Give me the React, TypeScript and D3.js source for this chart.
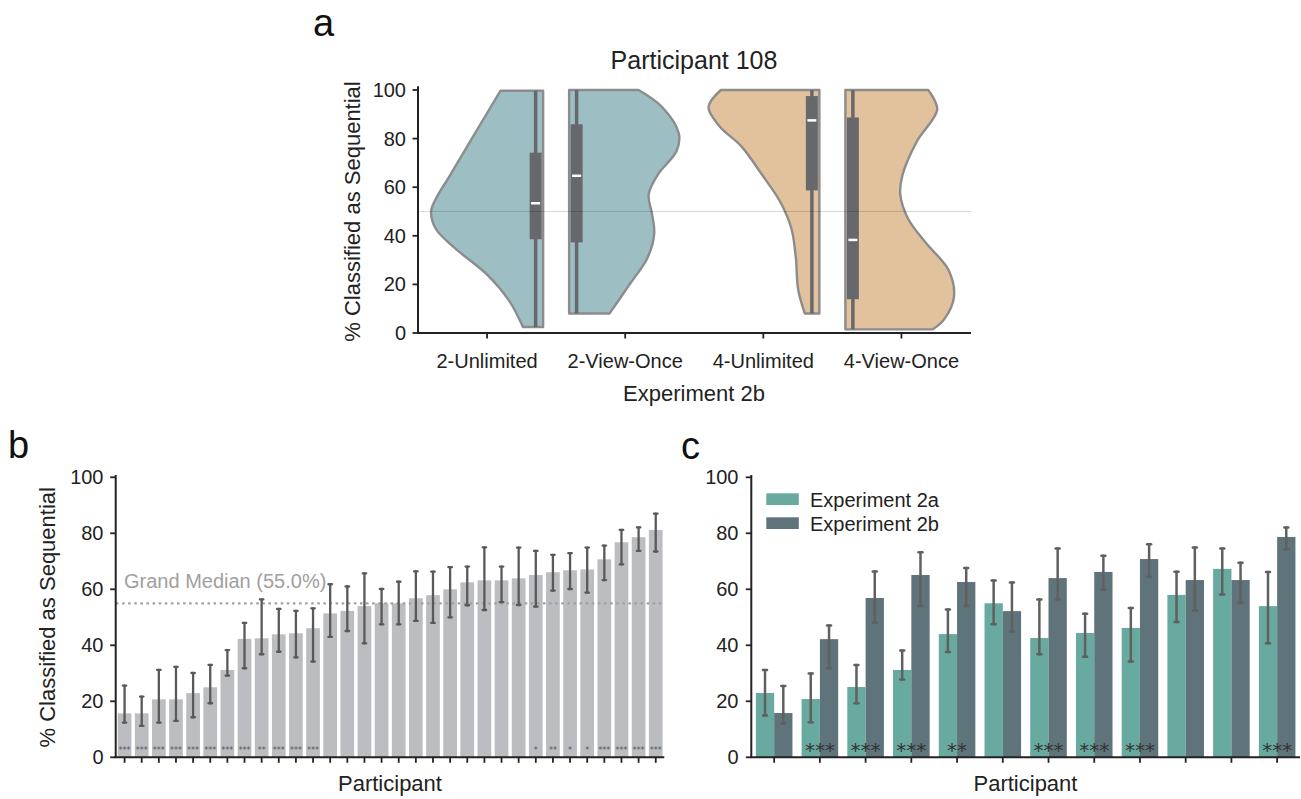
import React from "react";
import * as d3 from "d3";

const FONT = "'Liberation Sans', Arial, Helvetica, sans-serif";
const STAR_FONT = "'DejaVu Sans', sans-serif";

// ---------- Panel a data ----------
const violinTitle = "Participant 108";
const violinCategories = ["2-Unlimited", "2-View-Once", "4-Unlimited", "4-View-Once"];
const density2Unlimited: [number, number][] = [[2.5, 0.18], [13, 0.3], [24, 0.5], [35, 0.79], [43, 0.96], [50, 1.0], [55, 0.96], [65, 0.83], [79, 0.65], [99.7, 0.38]];
const density2ViewOnce: [number, number][] = [[8, 0.36], [20, 0.54], [31, 0.7], [41, 0.76], [49, 0.74], [57, 0.71], [65, 0.79], [75, 0.96], [82, 0.98], [93, 0.83], [100, 0.62]];
const density4Unlimited: [number, number][] = [[8, 0.13], [18, 0.19], [31, 0.21], [43, 0.25], [54, 0.35], [65, 0.51], [77, 0.7], [85, 0.89], [93, 0.99], [100, 0.88]];
const density4ViewOnce: [number, number][] = [[1.5, 0.78], [5.5, 0.88], [15, 0.97], [26, 0.92], [37, 0.72], [47, 0.56], [57, 0.49], [65, 0.51], [79, 0.64], [92, 0.82], [100, 0.74]];
const boxMin = [2.5, 8, 8, 1.5];
const boxQ1 = [38.6, 37.3, 58.7, 13.9];
const boxMedian = [53.4, 64.7, 87.5, 38.3];
const boxQ3 = [74.2, 85.9, 97.5, 88.7];
const boxMax = [99.7, 100, 100, 100];
const chanceLevel = 50;
const yTicks = [0, 20, 40, 60, 80, 100];

// ---------- Panel b data ----------
const participantMean = [15.7, 15.7, 20.7, 20.7, 22.9, 25.0, 31.2, 42.3, 42.5, 43.9, 44.3, 46.1, 51.4, 52.3, 54.0, 55.0, 55.0, 56.8, 57.9, 60.0, 62.5, 63.2, 63.2, 63.9, 65.1, 66.1, 66.8, 67.1, 70.7, 76.8, 78.6, 81.2];
const participantLow = [12.4, 11.2, 12.4, 13.0, 14.3, 19.3, 29.2, 31.8, 36.8, 37.7, 35.7, 34.2, 43.0, 45.1, 40.7, 47.5, 47.5, 48.7, 48.0, 50.0, 54.3, 52.6, 55.4, 54.4, 53.8, 59.5, 60.1, 58.8, 63.3, 68.9, 73.7, 73.5];
const participantHigh = [25.6, 21.7, 31.2, 32.3, 30.1, 33.0, 38.3, 48.0, 56.4, 53.0, 52.3, 53.2, 61.8, 61.0, 65.7, 60.1, 62.7, 66.4, 66.3, 67.9, 68.1, 75.0, 68.1, 74.9, 73.7, 72.3, 72.9, 74.9, 75.6, 81.2, 82.1, 87.0];
const participantStars = ["***", "***", "***", "***", "***", "***", "***", "***", "**", "***", "***", "***", "", "", "", "", "", "", "", "", "", "", "", "", "*", "**", "*", "*", "***", "***", "***", "***"];
const grandMedian = 55.0;

// ---------- Panel c data ----------
const seriesNames = ["Experiment 2a", "Experiment 2b"];
const exp2aMean = [22.96, 20.8, 25.1, 31.2, 44.0, 55.0, 42.6, 44.4, 46.2, 58.0, 67.3, 54.0];
const exp2aLow = [14.9, 12.5, 19.3, 27.8, 37.6, 47.5, 36.8, 35.9, 34.2, 48.3, 58.1, 40.7];
const exp2aHigh = [31.2, 29.9, 33.0, 38.1, 52.8, 63.1, 56.4, 51.3, 53.3, 66.3, 74.6, 66.2];
const exp2bMean = [15.8, 42.2, 56.9, 65.1, 62.6, 52.2, 64.0, 66.2, 70.8, 63.3, 63.3, 78.7];
const exp2bLow = [12.1, 31.8, 48.1, 54.0, 54.0, 44.9, 56.4, 59.8, 64.5, 52.4, 55.2, 74.3];
const exp2bHigh = [25.5, 47.1, 66.4, 73.2, 67.6, 62.4, 74.6, 72.0, 76.1, 74.9, 69.5, 82.1];
const groupStars = ["", "***", "***", "***", "**", "", "***", "***", "***", "", "", "***"];

const densities = [density2Unlimited, density2ViewOnce, density4Unlimited, density4ViewOnce];
const violinFill = ["#9dbfc4", "#9dbfc4", "#e2c19d", "#e2c19d"];
const seriesColors = ["#69aaa0", "#5f737a"];

function ErrorBar({ x, y1, y2, color, w, cap }: { x: number; y1: number; y2: number; color: string; w: number; cap: number }) {
  return (
    <g stroke={color} strokeWidth={w} strokeLinecap="round">
      <line x1={x} x2={x} y1={y1} y2={y2} />
      <line x1={x - cap / 2} x2={x + cap / 2} y1={y1} y2={y1} />
      <line x1={x - cap / 2} x2={x + cap / 2} y1={y2} y2={y2} />
    </g>
  );
}

export default function App() {
  // ---------- Panel a scales ----------
  const xA = d3.scaleBand<string>().domain(violinCategories).range([418, 970.5]).padding(0);
  const yA = d3.scaleLinear().domain([0, 100]).range([333, 90]);
  const wA = d3.scaleLinear().domain([0, 1]).range([0, 112]);
  const gap = 13;
  const boxInset = 7.5;

  const violins = violinCategories.map((c, i) => {
    const pair = Math.floor(i / 2);
    const a = xA(violinCategories[pair * 2])! + xA.bandwidth() / 2;
    const b = xA(violinCategories[pair * 2 + 1])! + xA.bandwidth() / 2;
    const center = (a + b) / 2;
    const side = i % 2 === 0 ? -1 : 1;
    const flat = center + side * gap;
    const area = d3
      .area<[number, number]>()
      .y((d) => yA(d[0]))
      .x0(flat)
      .x1((d) => flat + side * wA(d[1]))
      .curve(d3.curveCatmullRom.alpha(0.5));
    return { path: area(densities[i])!, flat, side, boxX: flat + side * boxInset };
  });

  // ---------- Panel b scales ----------
  const yB = d3.scaleLinear().domain([0, 100]).range([757.3, 477.3]);
  const xB = d3.scaleBand<number>().domain(d3.range(participantMean.length)).range([116, 664.3]).paddingInner(0.2).paddingOuter(0.1);

  // ---------- Panel c scales ----------
  const xC = d3.scaleBand<number>().domain(d3.range(exp2aMean.length)).range([751.3, 1300]).paddingInner(0.2).paddingOuter(0.1);
  const xSub = d3.scaleBand<string>().domain(seriesNames).range([0, xC.bandwidth()]).padding(0);
  const cMeans = [exp2aMean, exp2bMean];
  const cLows = [exp2aLow, exp2bLow];
  const cHighs = [exp2aHigh, exp2bHigh];

  const axisColor = "#222";

  return (
    <svg width={1301} height={799} style={{ position: "absolute", left: 0, top: 0, background: "#fff" }} fontFamily={FONT}>
      <rect width={1301} height={799} fill="#fff" />
      {/* Panel labels */}
      <text x={313} y={36} fontSize={38} fill="#111">a</text>
      <text x={8} y={458} fontSize={38} fill="#111">b</text>
      <text x={681} y={459} fontSize={38} fill="#111">c</text>

      {/* ================= Panel a ================= */}
      <text x={694} y={69} fontSize={25} textAnchor="middle" fill="#222">{violinTitle}</text>
      {violins.map((v, i) => (
        <path key={"v" + i} d={v.path} fill={violinFill[i]} stroke="#8c8c8c" strokeWidth={2.4} strokeLinejoin="round" />
      ))}
      {violins.map((v, i) => (
        <g key={"b" + i}>
          <line x1={v.boxX} x2={v.boxX} y1={yA(boxMin[i])} y2={yA(boxMax[i])} stroke="#67686b" strokeWidth={3.5} />
          <rect x={v.boxX - 6} y={yA(boxQ3[i])} width={12} height={yA(boxQ1[i]) - yA(boxQ3[i])} fill="#67686b" />
          <line x1={v.boxX - 4.5} x2={v.boxX + 4.5} y1={yA(boxMedian[i])} y2={yA(boxMedian[i])} stroke="#fff" strokeWidth={2.5} />
        </g>
      ))}
      <line x1={418} x2={971} y1={yA(chanceLevel)} y2={yA(chanceLevel)} stroke="#000" strokeOpacity={0.15} strokeWidth={1} />
      {/* axes a */}
      <line x1={418} x2={418} y1={yA(101.5)} y2={yA(0)} stroke={axisColor} strokeWidth={2} />
      <line x1={417} x2={971} y1={yA(0)} y2={yA(0)} stroke={axisColor} strokeWidth={2} />
      {yTicks.map((t) => (
        <g key={"ya" + t}>
          <line x1={412.5} x2={418} y1={yA(t)} y2={yA(t)} stroke={axisColor} strokeWidth={1.8} />
          <text x={406} y={yA(t) + 7} fontSize={20} textAnchor="end" fill="#222">{t}</text>
        </g>
      ))}
      {violinCategories.map((c) => {
        const cx = xA(c)! + xA.bandwidth() / 2;
        return (
          <g key={"xa" + c}>
            <line x1={cx} x2={cx} y1={yA(0)} y2={yA(0) + 5.5} stroke={axisColor} strokeWidth={1.8} />
            <text x={cx} y={368} fontSize={20} textAnchor="middle" fill="#222">{c}</text>
          </g>
        );
      })}
      <text x={694} y={401} fontSize={22} textAnchor="middle" fill="#222">Experiment 2b</text>
      <text transform={`translate(360,${(yA(0) + yA(100)) / 2}) rotate(-90)`} fontSize={22} textAnchor="middle" fill="#222">% Classified as Sequential</text>

      {/* ================= Panel b ================= */}
      {participantMean.map((m, i) => (
        <rect key={"bb" + i} x={xB(i)!} y={yB(m)} width={xB.bandwidth()} height={yB(0) - yB(m)} fill="#bcbdc1" />
      ))}
      <line x1={116} x2={664.3} y1={yB(grandMedian)} y2={yB(grandMedian)} stroke="#a0a0a0" strokeWidth={2.2} strokeDasharray="2.5,3.6" />
      <text x={124} y={588} fontSize={20} fill="#a0a0a0">Grand Median (55.0%)</text>
      {participantMean.map((m, i) => (
        <ErrorBar key={"be" + i} x={xB(i)! + xB.bandwidth() / 2} y1={yB(participantLow[i])} y2={yB(participantHigh[i])} color="#595959" w={2.3} cap={3.5} />
      ))}
      {participantStars.map((s, i) => (
        <text key={"bs" + i} x={xB(i)! + xB.bandwidth() / 2} y={752.5} fontSize={8} fontFamily={STAR_FONT} textAnchor="middle" fill="#555">{s}</text>
      ))}
      {/* axes b */}
      <line x1={115.7} x2={115.7} y1={yB(100.8)} y2={yB(0)} stroke={axisColor} strokeWidth={2} />
      <line x1={114.7} x2={664.3} y1={yB(0)} y2={yB(0)} stroke={axisColor} strokeWidth={2} />
      {yTicks.map((t) => (
        <g key={"yb" + t}>
          <line x1={110.2} x2={115.7} y1={yB(t)} y2={yB(t)} stroke={axisColor} strokeWidth={1.8} />
          <text x={103.5} y={yB(t) + 7} fontSize={20} textAnchor="end" fill="#222">{t}</text>
        </g>
      ))}
      {participantMean.map((_, i) => {
        const cx = xB(i)! + xB.bandwidth() / 2;
        return <line key={"xtb" + i} x1={cx} x2={cx} y1={yB(0)} y2={yB(0) + 5.5} stroke={axisColor} strokeWidth={1.8} />;
      })}
      <text x={390} y={791} fontSize={22} textAnchor="middle" fill="#222">Participant</text>
      <text transform={`translate(55,${(yB(0) + yB(100)) / 2}) rotate(-90)`} fontSize={22} textAnchor="middle" fill="#222">% Classified as Sequential</text>

      {/* ================= Panel c ================= */}
      {seriesNames.map((s, si) =>
        cMeans[si].map((m, i) => (
          <rect key={"cb" + si + "-" + i} x={xC(i)! + xSub(s)!} y={yB(m)} width={xSub.bandwidth()} height={yB(0) - yB(m)} fill={seriesColors[si]} />
        ))
      )}
      {seriesNames.map((s, si) =>
        cMeans[si].map((_, i) => (
          <ErrorBar key={"ce" + si + "-" + i} x={xC(i)! + xSub(s)! + xSub.bandwidth() / 2} y1={yB(cLows[si][i])} y2={yB(cHighs[si][i])} color="#606060" w={2.5} cap={4} />
        ))
      )}
      {groupStars.map((s, i) => (
        <text key={"cs" + i} x={xC(i)! + xC.bandwidth() / 2} y={757} fontSize={20} fontFamily={STAR_FONT} textAnchor="middle" fill="#333">{s}</text>
      ))}
      {/* legend */}
      {seriesNames.map((s, si) => (
        <g key={"lg" + s}>
          <rect x={766.3} y={493.3 + si * 24} width={32.5} height={11.7} fill={seriesColors[si]} />
          <text x={810} y={507 + si * 23.5} fontSize={20} fill="#222">{s}</text>
        </g>
      ))}
      {/* axes c */}
      <line x1={751.3} x2={751.3} y1={yB(100.8)} y2={yB(0)} stroke={axisColor} strokeWidth={2} />
      <line x1={750.3} x2={1300} y1={yB(0)} y2={yB(0)} stroke={axisColor} strokeWidth={2} />
      {yTicks.map((t) => (
        <g key={"yc" + t}>
          <line x1={745.8} x2={751.3} y1={yB(t)} y2={yB(t)} stroke={axisColor} strokeWidth={1.8} />
          <text x={738.5} y={yB(t) + 7} fontSize={20} textAnchor="end" fill="#222">{t}</text>
        </g>
      ))}
      {exp2aMean.map((_, i) => {
        const cx = xC(i)! + xC.bandwidth() / 2;
        return <line key={"xtc" + i} x1={cx} x2={cx} y1={yB(0)} y2={yB(0) + 5.5} stroke={axisColor} strokeWidth={1.8} />;
      })}
      <text x={1025.5} y={791} fontSize={22} textAnchor="middle" fill="#222">Participant</text>
    </svg>
  );
}
